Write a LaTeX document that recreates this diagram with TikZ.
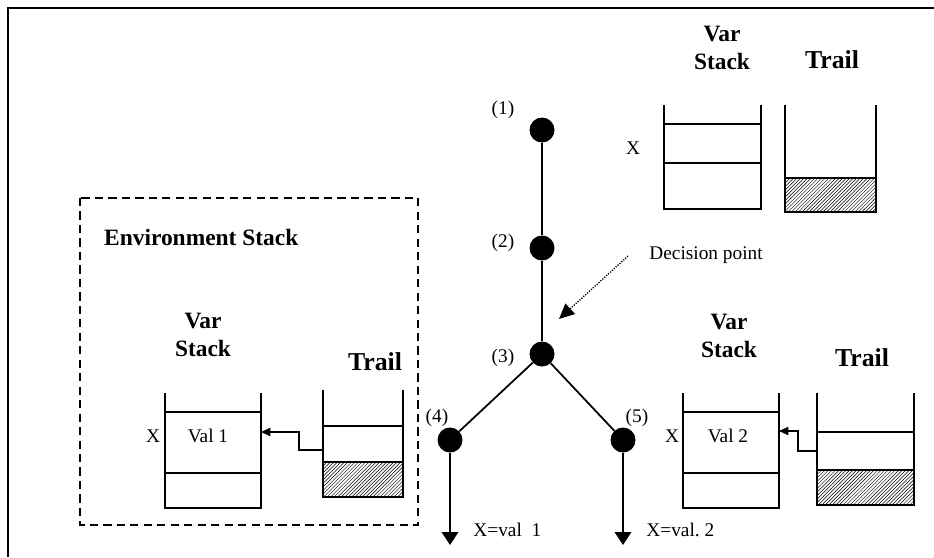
\documentclass[tikz,border=0pt]{standalone}
\usepackage{fontspec}
\setmainfont{Liberation Serif}
\usepackage{tikz}
\usetikzlibrary{arrows.meta, patterns}
\tikzstyle{frame} = [line width=2pt]
\tikzstyle{envbox} = [line width=2pt, dash pattern=on 7pt off 4.5pt]
\tikzstyle{stackline} = [line width=1.6pt]
\tikzstyle{hatch} = [pattern=north east lines]
\tikzstyle{dot} = [circle, fill=black, minimum size=0.75cm, inner sep=0pt]
\tikzstyle{branch} = [line width=1.5pt]
\tikzstyle{result} = [line width=1.5pt, -{Triangle[width=14pt,length=11pt]}]
\tikzstyle{link} = [line width=1.3pt, -{Triangle[width=7pt,length=8pt]}]
\tikzstyle{hint} = [line width=1.2pt, dash pattern=on 1pt off 1.2pt, -{Triangle[width=12pt,length=13pt]}]
\tikzstyle{title} = [font=\fontsize{20}{24.5}\selectfont\bfseries, align=center]
\tikzstyle{trailtitle} = [font=\fontsize{22}{26}\selectfont\bfseries]
\tikzstyle{lbl} = [font=\fontsize{16.5}{20}\selectfont, inner sep=1pt]

\begin{document}
\begin{tikzpicture}[x=0.03cm, y=-0.03cm]
\useasboundingbox (0,0) rectangle (934,557);
\draw [frame] (8,557) -- (8,8) -- (934,8);

% search tree
\node (n1) [dot] at (542,130) {};
\node (n2) [dot] at (542,248) {};
\node (n3) [dot] at (542,354) {};
\node (n4) [dot] at (450,440) {};
\node (n5) [dot] at (623,440) {};
\node (l1) [lbl] at (503,110) {(1)};
\node (l2) [lbl] at (503,243) {(2)};
\node (l3) [lbl] at (503,358) {(3)};
\node (l4) [lbl] at (437,418) {(4)};
\node (l5) [lbl] at (637,418) {(5)};
\coordinate (e4) at (450,545);
\coordinate (e5) at (623,545);
\node (r4) [lbl, anchor=west] at (472,530) {X=val~~1};
\node (r5) [lbl, anchor=west] at (645,530) {X=val.~2};

\draw [branch] (n1) -- (n2) -- (n3);
\draw [branch] (n3) -- (n4);
\draw [branch] (n3) -- (n5);
\draw [result] (n4) -- (e4);
\draw [result] (n5) -- (e5);

\node (dp) [lbl, anchor=west] at (648,255) {Decision point};
\coordinate (dptail) at (628,256);
\coordinate (dptip) at (559,319);
\draw [hint] (dptail) -- (dptip);

% stacks before the choice
\node (vsTop) [title] at (722,48) {Var\\Stack};
\node (trTop) [trailtitle] at (832,60) {Trail};
\node (xTop) [lbl] at (633,148) {X};
\draw [stackline] (664,105) -- (664,209) -- (761,209) -- (761,105);
\draw [stackline] (664,124) -- (761,124);
\draw [stackline] (664,163) -- (761,163);
\fill [hatch] (785,178) rectangle (876,212);
\draw [stackline] (785,105) -- (785,212) -- (876,212) -- (876,105);
\draw [stackline] (785,178) -- (876,178);

% environment stack
\draw [envbox] (80,198) rectangle (418,525);
\node (env) [title, anchor=west] at (100,237) {Environment Stack};
\node (vsLeft) [title] at (203,335) {Var\\Stack};
\node (trLeft) [trailtitle] at (375,362) {Trail};
\node (xLeft) [lbl] at (153,436) {X};
\node (val1) [lbl] at (208,436) {Val 1};
\draw [stackline] (165,393) -- (165,508) -- (261,508) -- (261,393);
\draw [stackline] (165,412) -- (261,412);
\draw [stackline] (165,473) -- (261,473);
\fill [hatch] (323,462) rectangle (403,497);
\draw [stackline] (323,390) -- (323,497) -- (403,497) -- (403,390);
\draw [stackline] (323,426) -- (403,426);
\draw [stackline] (323,462) -- (403,462);
\coordinate (tl1) at (323,450);
\coordinate (vl1) at (261,432);
\draw [link] (tl1) -- (299,450) |- (vl1);

% stacks after the second choice
\node (vsRight) [title] at (729,336) {Var\\Stack};
\node (trRight) [trailtitle] at (862,358) {Trail};
\node (xRight) [lbl] at (672,436) {X};
\node (val2) [lbl] at (728,436) {Val 2};
\draw [stackline] (683,393) -- (683,508) -- (779,508) -- (779,393);
\draw [stackline] (683,412) -- (779,412);
\draw [stackline] (683,473) -- (779,473);
\fill [hatch] (817,470) rectangle (914,505);
\draw [stackline] (817,393) -- (817,505) -- (914,505) -- (914,393);
\draw [stackline] (817,432) -- (914,432);
\draw [stackline] (817,470) -- (914,470);
\coordinate (tl2) at (817,451);
\coordinate (vl2) at (779,431);
\draw [link] (tl2) -- (798,451) |- (vl2);
\end{tikzpicture}
\end{document}
